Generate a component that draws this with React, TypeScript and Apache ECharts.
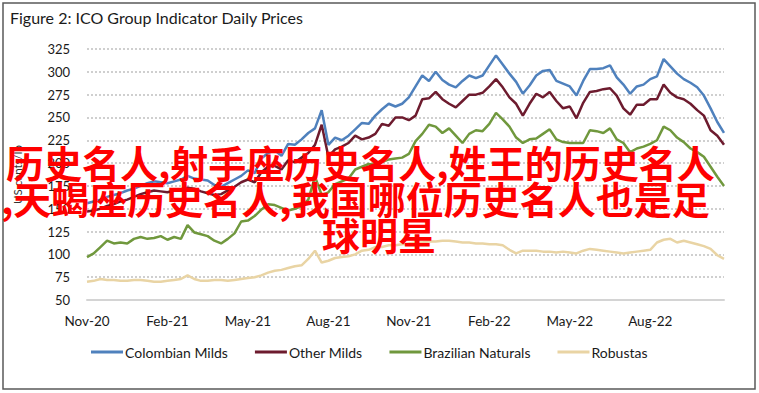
import React, { useEffect, useRef } from "react";
import * as echarts from "echarts";

const dates: string[] = [
  "2020-11-01","2020-11-08","2020-11-16","2020-11-23","2020-12-01","2020-12-08","2020-12-16","2020-12-23",
  "2021-01-01","2021-01-08","2021-01-16","2021-01-23","2021-02-01","2021-02-08","2021-02-16","2021-02-23",
  "2021-03-01","2021-03-08","2021-03-16","2021-03-23","2021-04-01","2021-04-08","2021-04-16","2021-04-23",
  "2021-05-01","2021-05-08","2021-05-16","2021-05-23","2021-06-01","2021-06-08","2021-06-16","2021-06-23",
  "2021-07-01","2021-07-08","2021-07-16","2021-07-23","2021-08-01","2021-08-08","2021-08-16","2021-08-23",
  "2021-09-01","2021-09-08","2021-09-16","2021-09-23","2021-10-01","2021-10-08","2021-10-16","2021-10-23",
  "2021-11-01","2021-11-08","2021-11-16","2021-11-23","2021-12-01","2021-12-08","2021-12-16","2021-12-23",
  "2022-01-01","2022-01-08","2022-01-16","2022-01-23","2022-02-01","2022-02-08","2022-02-16","2022-02-23",
  "2022-03-01","2022-03-08","2022-03-16","2022-03-23","2022-04-01","2022-04-08","2022-04-16","2022-04-23",
  "2022-05-01","2022-05-08","2022-05-16","2022-05-23","2022-06-01","2022-06-08","2022-06-16","2022-06-23",
  "2022-07-01","2022-07-08","2022-07-16","2022-07-23","2022-08-01","2022-08-08","2022-08-16","2022-08-23",
  "2022-09-01","2022-09-08","2022-09-16","2022-09-23","2022-10-01","2022-10-08","2022-10-16","2022-10-23",
];

const tickDates: string[] = ["2020-11-01","2021-02-01","2021-05-01","2021-08-01","2021-11-01","2022-02-01","2022-05-01","2022-08-01"];
const tickLabels: string[] = ["Nov-20","Feb-21","May-21","Aug-21","Nov-21","Feb-22","May-22","Aug-22"];

const colombianMilds: number[] = [
  156,158,160,163,165,167,170,172, 175,178,180,179,178,180,182,186,
  183,182,181,176,174,178,182,186, 192,189,205,211,214,208,221,220,
  226,233,238,258,220,228,225,230, 237,244,243,252,259,265,262,265,
  272,284,296,290,300,291,286,283, 290,296,293,296,307,318,308,298,
  289,276,285,296,301,302,290,287, 284,274,290,303,303,304,307,294,
  286,276,284,286,292,295,314,306, 298,292,288,283,274,260,245,233,
];

const otherMilds: number[] = [
  147,148,150,153,155,158,160,163, 166,168,170,169,168,170,171,173,
  172,169,167,165,166,170,174,179, 182,179,190,196,197,193,203,201,
  206,211,220,242,207,215,218,222, 230,226,228,232,243,241,250,250,
  247,252,270,271,278,270,265,261, 268,275,275,277,284,292,283,272,
  265,252,265,276,272,278,268,260, 262,249,266,278,279,281,282,274,
  260,253,264,264,270,270,286,277, 272,270,265,258,252,236,230,220,
];

const brazilianNaturals: number[] = [
  97,101,108,115,112,113,112,117, 119,117,118,120,116,119,117,132,
  124,122,120,115,112,117,123,136, 137,142,149,155,154,151,148,150,
  153,160,185,165,168,177,180,183, 193,196,199,198,201,204,205,206,
  210,224,232,242,240,233,238,230, 222,232,236,235,243,255,248,240,
  228,222,226,227,232,237,226,223, 222,222,222,236,235,233,238,226,
  222,212,216,218,221,225,240,236, 228,223,216,212,207,196,185,175,
];

const robustas: number[] = [
  70,71,73,72,72,71,71,72, 72,71,70,70,71,72,73,77,
  73,71,71,72,72,71,72,73, 74,75,77,80,82,83,85,87,
  88,95,104,91,93,96,97,98, 100,104,105,108,108,110,110,111,
  112,113,113,114,114,115,115,114, 113,113,112,112,111,111,110,105,
  101,104,104,104,103,103,102,103, 102,101,104,106,105,104,103,102,
  101,102,103,104,105,113,116,117, 113,115,113,111,109,106,99,95,
];

const seriesNames: string[] = ["Colombian Milds", "Other Milds", "Brazilian Naturals", "Robustas"];
const seriesColors: string[] = ["#4f81bd", "#6d1b2e", "#70983d", "#e9d4a4"];

const titleText = "Figure 2: ICO Group Indicator Daily Prices";
const overlayLines: string[] = [
  "历史名人,射手座历史名人,姓王的历史名人",
  ",天蝎座历史名人,我国哪位历史名人也是足",
  "球明星",
];

export default function App() {
  const ref = useRef<HTMLDivElement>(null);
  useEffect(() => {
    if (!ref.current) return;
    const chart = echarts.init(ref.current, undefined, { renderer: "svg" });
    const font = "Lato, 'Open Sans', sans-serif";
    const dataSets = [colombianMilds, otherMilds, brazilianNaturals, robustas];
    const redFont = "bold 38px 'Noto Sans CJK SC'";
    chart.setOption({
      animation: false,
      backgroundColor: "#ffffff",
      title: {
        text: titleText,
        left: 10,
        top: 9,
        padding: 0,
        textStyle: { fontSize: 16, fontWeight: "normal", color: "#1a1a1a", fontFamily: font },
      },
      legend: {
        left: 86,
        top: 340,
        itemGap: 27,
        itemWidth: 32,
        itemHeight: 3,
        icon: "rect",
        data: seriesNames,
        textStyle: { fontSize: 14, color: "#1a1a1a", fontFamily: font, padding: [0, 0, 0, -3] },
      },
      grid: { left: 87, right: 35, top: 49, bottom: 93, containLabel: false },
      xAxis: {
        type: "category",
        data: dates,
        boundaryGap: false,
        axisLine: { show: true, lineStyle: { color: "#d4d4d4", width: 2 } },
        axisTick: { show: false },
        splitLine: { show: false },
        axisLabel: {
          interval: (index: number, value: string) => tickDates.indexOf(value) >= 0,
          formatter: (value: string) => {
            const k = tickDates.indexOf(value);
            return k >= 0 ? tickLabels[k] : "";
          },
          margin: 14,
          fontSize: 13.5,
          color: "#1a1a1a",
          fontFamily: font,
        },
      },
      yAxis: {
        type: "value",
        min: 50,
        max: 325,
        interval: 25,
        name: "US cents/lb",
        nameLocation: "middle",
        nameGap: 64,
        nameTextStyle: { fontSize: 11.5, color: "#333333", fontFamily: font },
        axisLine: { show: false },
        axisTick: { show: false },
        axisLabel: { margin: 17, fontSize: 13, color: "#1a1a1a", fontFamily: font },
        splitLine: { show: true, lineStyle: { color: "#cfcfcf", width: 2, type: [2, 2] } },
      },
      series: dataSets.map((d, i) => ({
        name: seriesNames[i],
        type: "line",
        data: d,
        showSymbol: false,
        symbol: "none",
        color: seriesColors[i],
        lineStyle: { width: 2.5, color: seriesColors[i] },
        z: 10 - i,
      })),
      graphic: [
        {
          type: "rect",
          z: 100,
          shape: { x: 3, y: 3, width: 752, height: 386 },
          style: { fill: "none", stroke: "#5a5a5a", lineWidth: 1.5 },
          silent: true,
        },
        {
          type: "text",
          z: 200,
          left: 6,
          top: 142,
          style: { text: overlayLines[0], fill: "#ff0000", font: redFont },
        },
        {
          type: "text",
          z: 200,
          left: 1,
          top: 178,
          style: { text: overlayLines[1], fill: "#ff0000", font: redFont },
        },
        {
          type: "text",
          z: 200,
          left: 322,
          top: 214,
          style: { text: overlayLines[2], fill: "#ff0000", font: redFont },
        },
      ],
    });
    return () => chart.dispose();
  }, []);
  return (
    <div
      ref={ref}
      style={{ position: "fixed", left: 0, top: 0, width: 759, height: 393, background: "#fff" }}
    />
  );
}
